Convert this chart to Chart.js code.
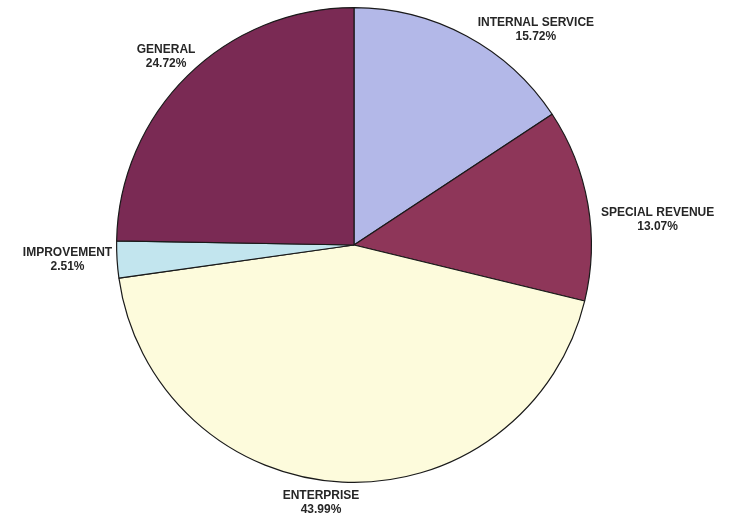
<!DOCTYPE html>
<html>
<head>
<meta charset="utf-8">
<script src="https://cdn.jsdelivr.net/npm/chart.js@4"></script>
<style>
  html, body { margin: 0; padding: 0; background: #fff; }
  #wrap { width: 738px; height: 523px; }
</style>
</head>
<body>
<div id="wrap"><canvas id="fundChart" width="738" height="523"></canvas></div>
<script>
"use strict"

// fund shares, clockwise from 12 o'clock
let funds = ['INTERNAL SERVICE', 'SPECIAL REVENUE', 'ENTERPRISE', 'IMPROVEMENT', 'GENERAL'];
let shares = [15.72, 13.07, 43.99, 2.51, 24.72];
let fundColors = ['#b3b8e8', '#8e3659', '#fdfbdc', '#c2e5ee', '#7a2a54'];

// draws "NAME / xx.xx%" outside each slice
let outsideLabels = {
    id: 'outsideLabels',
    afterDatasetsDraw(chart, args, opts) {
        let ctx = chart.ctx;
        let arcs = chart.getDatasetMeta(0).data;
        let nudge = opts.nudge || [];
        ctx.save();
        ctx.font = 'bold 12px "Liberation Sans", Arial, sans-serif';
        ctx.fillStyle = '#262626';
        ctx.textAlign = 'center';
        ctx.textBaseline = 'middle';
        let lineH = 14;
        for (let i = 0; i < arcs.length; i++) {
            let arc = arcs[i];
            let mid = (arc.startAngle + arc.endAngle) / 2;
            let ax = arc.x + Math.cos(mid) * (arc.outerRadius + 10);
            let ay = arc.y + Math.sin(mid) * (arc.outerRadius + 10);
            let line2 = shares[i].toFixed(2) + '%';
            let w = Math.max(ctx.measureText(funds[i]).width, ctx.measureText(line2).width);
            let h = lineH * 2;
            let off = nudge[i] || [0, 0];
            let cx = ax + Math.cos(mid) * w / 2 + off[0];
            let cy = ay + Math.sin(mid) * h / 2 + off[1];
            ctx.fillText(funds[i], cx, cy - lineH / 2);
            ctx.fillText(line2, cx, cy + lineH / 2);
        }
        ctx.restore();
    }
};

let ctx = document.getElementById('fundChart').getContext('2d');
let fundChart = new Chart(ctx, {
    type: 'pie',
    data: {
        labels: funds,
        datasets: [{
            data: shares,
            backgroundColor: fundColors,
            borderColor: '#1a1a1a',
            borderWidth: 1.2
        }]
    },
    options: {
        responsive: false,
        animation: false,
        layout: {
            padding: { top: 7, bottom: 40, left: 116, right: 146 }
        },
        plugins: {
            legend: { display: false },
            tooltip: { enabled: false },
            outsideLabels: {
                nudge: [[37, 15], [4, 20], [-19, -3], [5, -1], [6, -2]]
            }
        }
    },
    plugins: [outsideLabels]
});
</script>
</body>
</html>
